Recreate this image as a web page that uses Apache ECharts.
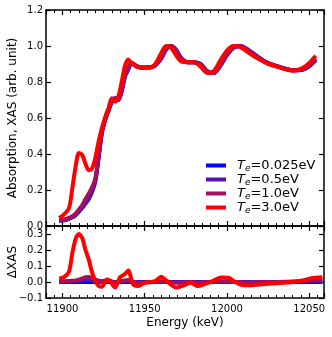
<!DOCTYPE html>
<html>
<head>
<meta charset="utf-8">
<script src="https://cdn.jsdelivr.net/npm/echarts@6/dist/echarts.min.js"></script>
<style>
  html, body { margin: 0; padding: 0; background: #fff; }
  #chart { width: 332px; height: 337px; }
</style>
</head>
<body>
<div id="chart"></div>
<script>
// energies (keV) for the XAS spectra
var energyXas = [11898, 11901, 11904, 11906, 11908, 11910, 11912, 11914, 11916, 11918,
  11920, 11922, 11924, 11926, 11928, 11930, 11932, 11934, 11936, 11938,
  11940, 11942, 11945, 11948, 11952, 11956, 11960, 11963, 11966, 11969,
  11972, 11976, 11980, 11984, 11988, 11992, 11996, 12000, 12004, 12008,
  12012, 12018, 12024, 12030, 12036, 12040, 12044, 12048, 12051, 12054];

var xasT0025 = [0.028, 0.032, 0.040, 0.048, 0.060, 0.080, 0.100, 0.125, 0.150, 0.190,
  0.250, 0.380, 0.520, 0.590, 0.640, 0.690, 0.710, 0.700, 0.750, 0.830,
  0.870, 0.905, 0.890, 0.880, 0.880, 0.890, 0.930, 0.980, 1.000, 0.980,
  0.935, 0.910, 0.910, 0.900, 0.860, 0.850, 0.890, 0.950, 0.990, 1.000,
  0.985, 0.945, 0.910, 0.890, 0.873, 0.865, 0.865, 0.875, 0.895, 0.920];

var xasT05 = [0.030, 0.034, 0.042, 0.050, 0.063, 0.085, 0.106, 0.132, 0.158, 0.196,
  0.255, 0.385, 0.522, 0.592, 0.642, 0.692, 0.708, 0.702, 0.752, 0.834,
  0.874, 0.905, 0.889, 0.880, 0.880, 0.890, 0.932, 0.982, 1.000, 0.978,
  0.933, 0.910, 0.910, 0.898, 0.859, 0.851, 0.892, 0.952, 0.991, 1.000,
  0.984, 0.944, 0.909, 0.889, 0.872, 0.865, 0.866, 0.877, 0.898, 0.925];

var xasT10 = [0.032, 0.036, 0.045, 0.054, 0.068, 0.092, 0.115, 0.150, 0.180, 0.215,
  0.265, 0.390, 0.525, 0.595, 0.645, 0.695, 0.706, 0.705, 0.756, 0.840,
  0.880, 0.905, 0.888, 0.880, 0.880, 0.891, 0.935, 0.985, 1.000, 0.975,
  0.930, 0.910, 0.909, 0.896, 0.857, 0.852, 0.895, 0.955, 0.993, 0.999,
  0.982, 0.942, 0.908, 0.888, 0.871, 0.865, 0.867, 0.880, 0.902, 0.930];

var xasT30 = [0.045, 0.065, 0.100, 0.210, 0.330, 0.405, 0.395, 0.345, 0.310, 0.320,
  0.380, 0.470, 0.545, 0.605, 0.655, 0.710, 0.690, 0.720, 0.800, 0.890,
  0.925, 0.905, 0.885, 0.880, 0.880, 0.895, 0.960, 1.000, 0.990, 0.950,
  0.915, 0.910, 0.910, 0.885, 0.850, 0.860, 0.920, 0.975, 1.000, 0.995,
  0.970, 0.935, 0.905, 0.885, 0.870, 0.863, 0.870, 0.890, 0.915, 0.945];

// energies (keV) for the difference spectra
var energyDiff = [11898, 11901, 11904, 11906, 11908, 11910, 11912, 11914, 11916, 11918,
  11920, 11922, 11924, 11927, 11929, 11932, 11935, 11938, 11940, 11943,
  11946, 11950, 11954, 11957, 11960, 11964, 11969, 11974, 11978, 11982,
  11986, 11990, 11994, 11997, 12001, 12005, 12010, 12015, 12020, 12030,
  12040, 12046, 12052, 12058];

var diffT0025 = [0, 0, 0, 0, 0, 0, 0, 0, 0, 0,
  0, 0, 0, 0, 0, 0, 0, 0, 0, 0,
  0, 0, 0, 0, 0, 0, 0, 0, 0, 0,
  0, 0, 0, 0, 0, 0, 0, 0, 0, 0,
  0, 0, 0, 0];

var diffT05 = [0.002, 0.002, 0.003, 0.004, 0.005, 0.007, 0.010, 0.013, 0.014, 0.010,
  0.006, 0.003, 0.002, 0.004, 0.003, -0.002, 0.002, 0.004, 0.005, 0.000,
  -0.002, -0.001, 0.000, 0.001, 0.002, 0.001, -0.002, -0.001, 0.000, -0.002,
  -0.001, 0.000, 0.001, 0.002, 0.002, 0.000, -0.001, -0.001, -0.001, 0.000,
  0.001, 0.003, 0.005, 0.007];

var diffT10 = [0.005, 0.005, 0.006, 0.008, 0.010, 0.015, 0.022, 0.030, 0.032, 0.025,
  0.015, 0.008, 0.005, 0.010, 0.008, -0.004, 0.005, 0.010, 0.012, 0.000,
  -0.005, -0.003, 0.000, 0.002, 0.005, 0.002, -0.005, -0.003, 0.000, -0.004,
  -0.002, 0.000, 0.003, 0.005, 0.005, 0.000, -0.003, -0.003, -0.002, 0.000,
  0.003, 0.007, 0.012, 0.016];

var diffT30 = [0.020, 0.030, 0.065, 0.180, 0.270, 0.300, 0.275, 0.200, 0.140, 0.060,
  0.005, -0.025, -0.030, 0.015, 0.005, -0.035, 0.030, 0.050, 0.072, -0.015,
  -0.025, -0.005, 0.000, 0.010, 0.033, 0.000, -0.035, -0.020, -0.005, -0.025,
  -0.015, 0.000, 0.020, 0.028, 0.027, 0.000, -0.020, -0.020, -0.015, -0.008,
  0.000, 0.010, 0.025, 0.030];

var seriesNames = ['T_e=0.025eV', 'T_e=0.5eV', 'T_e=1.0eV', 'T_e=3.0eV'];
var seriesColors = ['#0000ff', '#5510b0', '#a5105a', '#ff0000'];
var xasValues = [xasT0025, xasT05, xasT10, xasT30];
var diffValues = [diffT0025, diffT05, diffT10, diffT30];

function pairs(xs, ys) {
  return xs.map(function (x, i) { return [x, ys[i]]; });
}

var font = 'DejaVu Sans';
var axisLine = { show: true, onZero: false, lineStyle: { color: '#000', width: 1.5 } };

function energyAxis(gridIndex, position, showLabels) {
  return {
    type: 'value', gridIndex: gridIndex, position: position,
    min: 11890, max: 12059, splitNumber: 3, minInterval: 50, maxInterval: 50,
    axisLine: axisLine,
    axisTick: { show: true, inside: true, length: 5, lineStyle: { color: '#000', width: 1.2 } },
    minorTick: { show: true, splitNumber: 10, length: 3, lineStyle: { color: '#000', width: 1 } },
    splitLine: { show: false },
    axisLabel: { show: showLabels, margin: 6, fontSize: 10, color: '#000', fontFamily: font,
      showMinLabel: false, showMaxLabel: false,
      formatter: function (v) { return String(v); } },
    name: showLabels && position === 'bottom' ? 'Energy (keV)' : '',
    nameLocation: 'middle', nameGap: 19, nameMoveOverlap: false,
    nameTextStyle: { fontSize: 12, color: '#000', fontFamily: font }
  };
}

function valueAxis(gridIndex, position, min, max, interval, name, nameGap) {
  var left = position === 'left';
  return {
    type: 'value', gridIndex: gridIndex, position: position,
    min: min, max: max, interval: interval,
    axisLine: axisLine,
    axisTick: { show: true, inside: true, length: 5, lineStyle: { color: '#000', width: 1.2 } },
    splitLine: { show: false },
    axisLabel: { show: left, margin: 3, fontSize: 10, color: '#000', fontFamily: font,
      showMaxLabel: gridIndex === 0,
      formatter: function (v) { return v.toFixed(1).replace('-', '\u2212'); } },
    name: left ? name : '',
    nameLocation: 'middle', nameGap: nameGap, nameMoveOverlap: false,
    nameTextStyle: { fontSize: 12, color: '#000', fontFamily: font }
  };
}

var series = [];
seriesNames.forEach(function (name, i) {
  series.push({
    name: name, type: 'line', xAxisIndex: 0, yAxisIndex: 0,
    data: pairs(energyXas, xasValues[i]),
    smooth: 0.3, showSymbol: false, color: seriesColors[i],
    lineStyle: { width: 4, color: seriesColors[i] }, z: 2 + i
  });
});
seriesNames.forEach(function (name, i) {
  series.push({
    name: name, type: 'line', xAxisIndex: 2, yAxisIndex: 2,
    data: pairs(energyDiff, diffValues[i]),
    smooth: 0.25, showSymbol: false, color: seriesColors[i],
    lineStyle: { width: 4, color: seriesColors[i] }, z: 2 + i
  });
});

var chart = echarts.init(document.getElementById('chart'), null, { renderer: 'canvas' });
chart.setOption({
  animation: false,
  backgroundColor: '#fff',
  grid: [
    { left: 46, right: 8, top: 10, height: 216, outerBoundsMode: 'none', containLabel: false },
    { left: 46, right: 8, top: 226, height: 72, outerBoundsMode: 'none', containLabel: false }
  ],
  legend: {
    data: seriesNames,
    orient: 'vertical', left: 206, top: 159, padding: 0,
    icon: 'rect', itemWidth: 20, itemHeight: 4, itemGap: 0,
    formatter: function (name) {
      var parts = name.split('_e');
      return '{t|' + parts[0] + '}{s|e}{n|' + parts[1] + '}';
    },
    textStyle: {
      color: '#000', fontFamily: font, fontSize: 13, lineHeight: 13,
      rich: {
        t: { fontSize: 13, fontStyle: 'italic', fontFamily: font, color: '#000', padding: [0, 0, 0, 6] },
        s: { fontSize: 9, fontStyle: 'italic', fontFamily: font, color: '#000', padding: [6, 0, 0, 0] },
        n: { fontSize: 13, fontFamily: font, color: '#000' }
      }
    }
  },
  xAxis: [
    energyAxis(0, 'bottom', false),
    energyAxis(0, 'top', false),
    energyAxis(1, 'bottom', true),
    energyAxis(1, 'top', false)
  ],
  yAxis: [
    valueAxis(0, 'left', 0, 1.2, 0.2, 'Absorption, XAS (arb. unit)', 27),
    valueAxis(0, 'right', 0, 1.2, 0.2, '', 0),
    valueAxis(1, 'left', -0.1, 0.35, 0.1, '\u0394XAS', 27),
    valueAxis(1, 'right', -0.1, 0.35, 0.1, '', 0)
  ],
  series: series
});
</script>
</body>
</html>
